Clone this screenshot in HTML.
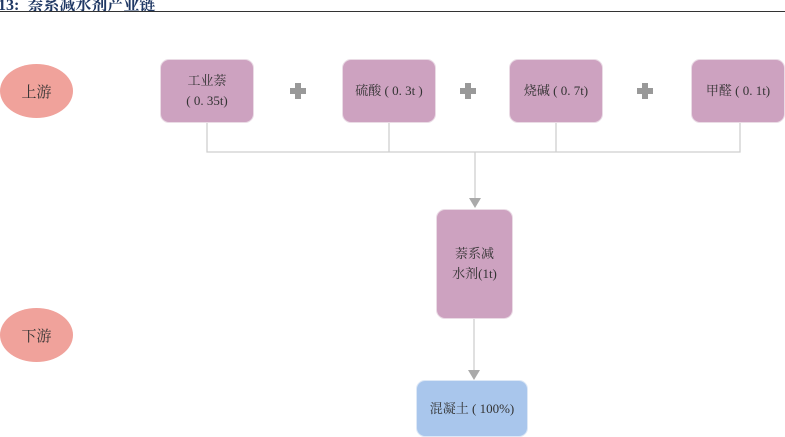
<!DOCTYPE html>
<html><head><meta charset="utf-8"><style>
body{margin:0;width:785px;height:437px;overflow:hidden;background:#fff;font-family:"Liberation Serif","Noto Serif CJK SC",serif;position:relative}
.t{position:absolute;left:-2px;top:-8px;font-size:16px;color:#1f3864;font-weight:bold;white-space:nowrap}
.hl{position:absolute;left:0;top:11px;width:785px;height:1px;background:#333}
.b{position:absolute;background:#cda2c0;border:1px solid #eadbe5;border-radius:9px;display:flex;align-items:center;justify-content:center;text-align:center;font-size:13px;color:#333;line-height:20px;box-sizing:border-box}
.e{position:absolute;width:73px;height:54px;border-radius:50%;background:#f0a29b;display:flex;align-items:center;justify-content:center;font-size:15px;color:#333}
.p{position:absolute;width:16px;height:16px}
.p:before{content:"";position:absolute;left:5px;top:0;width:6px;height:16px;background:#999}
.p:after{content:"";position:absolute;left:0;top:5px;width:16px;height:6px;background:#999}
</style></head><body>
<div class="t">13:&nbsp; 萘系减水剂产业链</div><div class="hl"></div>
<div class="e" style="left:0;top:64px">上游</div>
<div class="e" style="left:0;top:308px">下游</div>
<svg style="position:absolute;left:0;top:0" width="785" height="437">
<g stroke="#cfcfcf" stroke-width="1.3" fill="none">
<path d="M207 122V152H740V122M389 122V152M556 122V152"/>
<path d="M475 152V198M474 318V370"/>
</g>
<path d="M469 198H481L475 208Z M468 370H480L474 380Z" fill="#aaa"/>
</svg>
<div class="b" style="left:160px;top:59px;width:94px;height:64px">工业萘<br>( 0. 35t)</div>
<div class="b" style="left:342px;top:59px;width:94px;height:64px">硫酸 ( 0. 3t )</div>
<div class="b" style="left:509px;top:59px;width:94px;height:64px">烧碱 ( 0. 7t)</div>
<div class="b" style="left:691px;top:59px;width:94px;height:64px">甲醛 ( 0. 1t)</div>
<div class="p" style="left:290px;top:83px"></div>
<div class="p" style="left:460px;top:83px"></div>
<div class="p" style="left:637px;top:83px"></div>
<div class="b" style="left:436px;top:209px;width:77px;height:110px">萘系减<br>水剂(1t)</div>
<div class="b" style="left:416px;top:380px;width:112px;height:57px;background:#a9c6ec;border-color:#dde8f6">混凝土 ( 100%)</div>
</body></html>
